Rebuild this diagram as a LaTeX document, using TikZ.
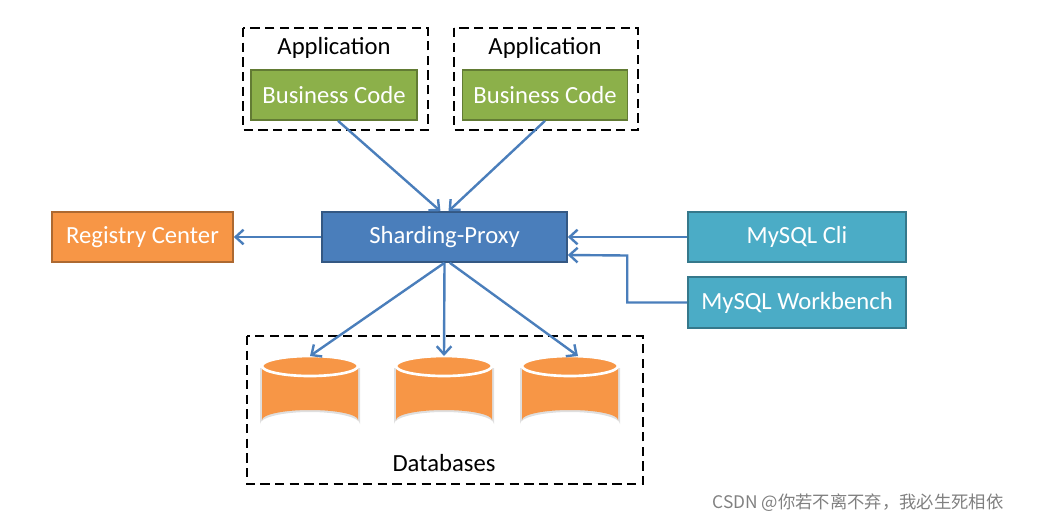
\documentclass[tikz,border=0pt]{standalone}
\usepackage{fontspec}
\setmainfont{Carlito}
\newfontfamily\cjk{Noto Sans CJK SC}
\usetikzlibrary{arrows.meta}
\begin{document}
\begin{tikzpicture}[x=0.75pt,y=-0.75pt,
 box/.style={draw=#1!70!black,fill=#1,line width=1.2pt,text=white,font=\fontsize{18.5}{20}\selectfont},
 dbox/.style={draw=black,dash pattern=on 7pt off 4pt,line width=1.8pt},
 arr/.style={draw=arrowblue,line width=1.8pt,->,>={Straight Barb[length=6pt,width=11pt]}},
 lbl/.style={font=\fontsize{18.5}{20}\selectfont}]
\definecolor{green1}{HTML}{8CB04A}
\definecolor{blue1}{HTML}{4A7EBB}
\definecolor{orange1}{HTML}{F79646}
\definecolor{teal1}{HTML}{4BACC6}
\definecolor{arrowblue}{HTML}{4A7EBB}
\useasboundingbox (0,0) rectangle (1038,526);
\draw[dbox] (243,28) rectangle (428,130);
\node[lbl] (a1) at (334,48) {Application};
\draw[dbox] (454,28) rectangle (638,130);
\node[lbl] (a2) at (545,48) {Application};
\node[box=green1,minimum width=166*0.75pt,minimum height=50*0.75pt] (b1) at (334,95) {Business Code};
\node[box=green1,minimum width=165*0.75pt,minimum height=50*0.75pt] (b2) at (545,95) {Business Code};
\node[box=blue1,minimum width=245*0.75pt,minimum height=50*0.75pt] (p) at (444.5,237) {Sharding-Proxy};
\node[box=orange1,minimum width=181*0.75pt,minimum height=50*0.75pt] (r) at (142.5,237) {Registry Center};
\node[box=teal1,minimum width=218*0.75pt,minimum height=50*0.75pt] (c) at (797,237) {MySQL Cli};
\node[box=teal1,minimum width=218*0.75pt,minimum height=51*0.75pt] (w) at (797,302.5) {MySQL Workbench};
\draw[dbox] (247,336) rectangle (643,484);
\node[lbl] (dbl) at (444,463) {Databases};
\foreach \n/\x in {d1/310,d2/444,d3/570}{
  \fill[gray!25] (\x-50,368) -- (\x-50,424) arc[start angle=180,end angle=360,x radius=50,y radius=12] -- (\x+50,368) -- cycle;
  \fill[orange1] (\x-48,366) -- (\x-48,420) arc[start angle=180,end angle=360,x radius=48,y radius=10] -- (\x+48,366) -- cycle;
  \draw[white,line width=2pt,fill=orange1] (\x,366) ellipse[x radius=48,y radius=10];
  \coordinate (\n) at (\x,356);
}
\draw[arr] (b1.south) ++(4,0) coordinate (s1) (s1) -- ([xshift=-3]p.north);
\draw[arr] (b2.south) -- ([xshift=3]p.north);
\draw[arr] (p.west) -- (r.east);
\draw[arr] (c.west) -- (p.east);
\draw[arr] (w.west) -- ++(-60,0) -- ++(0,-47) -- ([yshift=-18*0.75pt]p.east);
\draw[arr] (p.south) -- (d1);
\draw[arr] (p.south) -- (d2);
\draw[arr] ([xshift=4]p.south) -- ([xshift=6]d3);
\node[text=gray,font=\cjk\fontsize{13}{15}\selectfont] (wm) at (858,503) {CSDN @你若不离不弃，我必生死相依};
\end{tikzpicture}
\end{document}
